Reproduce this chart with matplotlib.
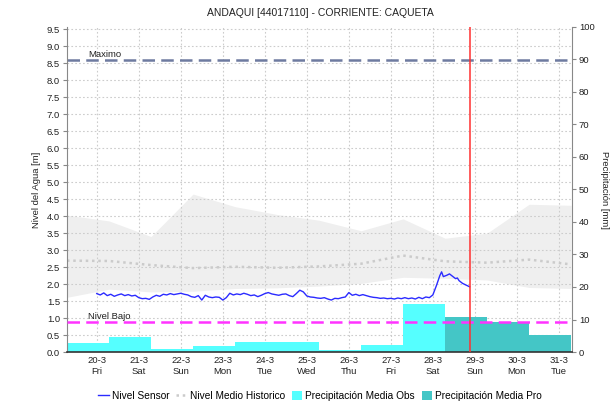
import matplotlib
matplotlib.use("Agg")
import matplotlib.pyplot as plt
from matplotlib.lines import Line2D
from matplotlib.patches import Patch

plt.rcParams["font.family"] = ["Liberation Sans", "DejaVu Sans"]

# ---- data (time axis in hours from 20-3 00:00) ----
day_labels = ["20-3", "21-3", "22-3", "23-3", "24-3", "25-3",
              "26-3", "27-3", "28-3", "29-3", "30-3", "31-3"]
weekday_labels = ["Fri", "Sat", "Sun", "Mon", "Tue", "Wed",
                  "Thu", "Fri", "Sat", "Sun", "Mon", "Tue"]

# daily precipitation (7:00 to 7:00), mm
precip_obs = [2.9, 4.7, 0.8, 1.9, 3.1, 3.1, 0.6, 2.2, 14.8]
precip_pro = [10.8, 9.3, 5.2]

# historical envelope and mean, one value per day at 7:00, m
hist_max = [4.03, 3.86, 3.40, 4.65, 4.28, 4.05, 3.88, 3.57, 3.92, 3.35, 3.50, 4.35, 4.32]
hist_min = [1.61, 1.85, 1.77, 1.79, 1.87, 1.89, 1.94, 2.02, 2.20, 2.17, 2.12, 1.90, 1.87]
hist_mean = [2.69, 2.68, 2.56, 2.47, 2.51, 2.48, 2.52, 2.60, 2.84, 2.67, 2.63, 2.72, 2.58]

# sensor water level, m (two-hourly, finer during the rise on 28-3)
sensor_hours = list(range(0, 192, 2)) + [192, 194, 196, 197, 198, 200, 201.5, 203,
                                         205, 206, 207, 209, 211, 213]
sensor_level = [
    1.72, 1.68, 1.74, 1.66, 1.70, 1.64, 1.68, 1.71, 1.66, 1.69, 1.65, 1.67,
    1.60, 1.57, 1.58, 1.55, 1.62, 1.67, 1.64, 1.70, 1.68, 1.72, 1.69, 1.71,
    1.73, 1.70, 1.68, 1.63, 1.61, 1.66, 1.53, 1.67, 1.62, 1.60, 1.62, 1.61,
    1.53, 1.60, 1.73, 1.68, 1.71, 1.69, 1.73, 1.70, 1.66, 1.68, 1.63, 1.67,
    1.72, 1.75, 1.71, 1.69, 1.67, 1.70, 1.71, 1.66, 1.63, 1.72, 1.82, 1.77,
    1.65, 1.62, 1.61, 1.59, 1.58, 1.60, 1.56, 1.53, 1.58, 1.57, 1.60, 1.62,
    1.75, 1.67, 1.70, 1.66, 1.69, 1.66, 1.63, 1.61, 1.60, 1.58, 1.59, 1.57,
    1.58, 1.56, 1.59, 1.57, 1.60, 1.57, 1.59, 1.56, 1.61, 1.57, 1.62, 1.60,
    1.68, 1.95, 2.25, 2.36, 2.22, 2.26, 2.30, 2.24, 2.16, 2.18, 2.10, 2.02, 1.97, 1.92,
]

nivel_maximo = 8.61
nivel_bajo = 0.89
now_hour = 213.5

# ---- layout ----
day0 = -17  # first 7:00 boundary (19-3 07:00)
bar_starts_obs = [day0 + 24 * i for i in range(len(precip_obs))]
bar_starts_pro = [day0 + 24 * (len(precip_obs) + i) for i in range(len(precip_pro))]
hist_hours = [day0 + 24 * i for i in range(len(hist_mean))]
tick_hours = [24 * i for i in range(len(day_labels))]

fig = plt.figure(figsize=(6.16, 4.11), dpi=100)
pos = [67 / 616, 1 - 352 / 411, 505 / 616, 325 / 411]
ax = fig.add_axes(pos)
ax2 = ax.twinx()

ax.set_xlim(-17, 271.5)
ax.set_ylim(0, 9.57)
ax2.set_ylim(0, 100)

# historical envelope
ax.fill_between(hist_hours, hist_min, hist_max, color="#efefef", lw=0, zorder=0.3)
ax.set_axisbelow(True)
ax.grid(True, color="#cccccc", linestyle=(0, (1.5, 2)), linewidth=0.8)
ax.plot(hist_hours, hist_mean, color="#cbcbcb", linestyle=(0, (1, 1.5)), lw=1.8, zorder=2)

ax.plot(sensor_hours, sensor_level, color="#2b2bff", lw=1, zorder=3)

ax.axhline(nivel_maximo, color="#6e7ba0", lw=1.8, linestyle=(0, (5, 2.5)), zorder=3)
ax.text(-5, nivel_maximo + 0.02, "Maximo", fontsize=6.8, color="#222222", va="bottom")
ax.text(-5, nivel_bajo + 0.02, "Nivel Bajo", fontsize=6.8, color="#222222", va="bottom")

# precipitation bars on the right axis
ax2.bar(bar_starts_obs, precip_obs, width=24, align="edge", color="#55ffff", lw=0)
ax2.bar(bar_starts_pro, precip_pro, width=24, align="edge", color="#44c6c6", lw=0)
ax2.plot([0, 1], [nivel_bajo, nivel_bajo], transform=ax.get_yaxis_transform(),
         color="#ff33ff", lw=1.8, linestyle=(0, (5, 2.5)), zorder=4)
ax2.axvline(now_hour, color="#ff3030", lw=1.1, zorder=5)

# axes styling
ax.set_xticks(tick_hours)
ax.set_xticklabels([f"{d}\n{w}" for d, w in zip(day_labels, weekday_labels)])
ax.set_yticks([0.5 * i for i in range(20)])
ax.set_yticklabels([f"{0.5 * i:.1f}" for i in range(20)])
ax2.set_yticks(range(0, 101, 10))

for a in (ax, ax2):
    for s in a.spines.values():
        s.set_visible(False)
for side in ("left", "right", "bottom"):
    ax2.spines[side].set_visible(True)
ax2.spines["left"].set_color("#888888")
ax2.spines["right"].set_color("#888888")
ax2.spines["bottom"].set_color("#333333")
ax2.spines["bottom"].set_linestyle((0, (1, 1)))
ax2.spines["bottom"].set_linewidth(1.2)

ax.tick_params(axis="y", labelsize=6.8, length=3, color="#888888", pad=2, labelcolor="#222222")
ax.tick_params(axis="x", labelsize=6.8, length=0, pad=3, labelcolor="#222222")
ax2.tick_params(axis="y", labelsize=6.8, length=3, color="#888888", pad=2, labelcolor="#222222")

ax.set_ylabel("Nivel del Agua [m]", fontsize=6.8, labelpad=4, color="#222222")
ax2.set_ylabel("Precipitación [mm]", fontsize=6.8, rotation=-90, labelpad=10, color="#222222")

fig.text(320 / 616, 1 - 13 / 411, "ANDAQUI [44017110] - CORRIENTE: CAQUETA",
         ha="center", va="center", fontsize=7.5, color="#222222")

handles = [
    Line2D([], [], color="#2b2bff", lw=1),
    Line2D([], [], color="#cbcbcb", lw=1.8, linestyle=(0, (1, 1.5))),
    Patch(facecolor="#55ffff", edgecolor="none"),
    Patch(facecolor="#44c6c6", edgecolor="none"),
]
labels = ["Nivel Sensor", "Nivel Medio Historico",
          "Precipitación Media Obs", "Precipitación Media Pro"]
fig.legend(handles, labels, loc="center", bbox_to_anchor=(320 / 616, 1 - 396 / 411),
           ncol=4, frameon=False, fontsize=7.3, handlelength=1.0, handletextpad=0.3,
           columnspacing=0.7, handleheight=1.0)

fig.savefig("out.png", dpi=100)
